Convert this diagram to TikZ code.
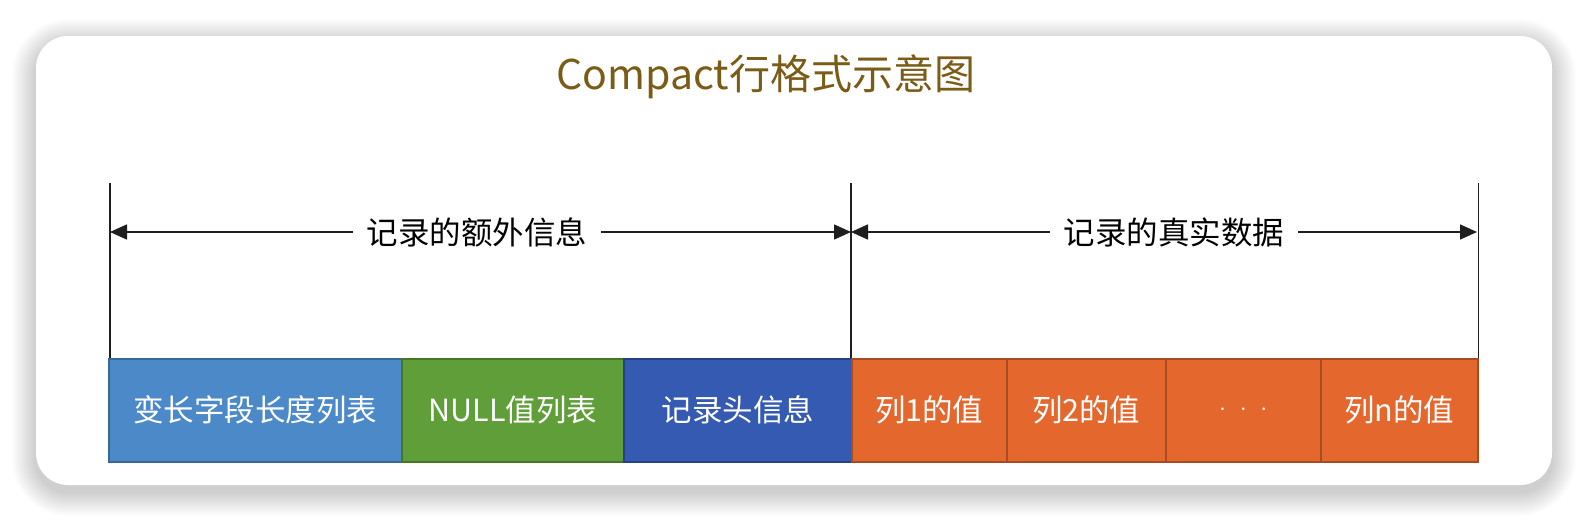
\documentclass[tikz,border=0pt]{standalone}
\usepackage{fontspec}
\setmainfont{Noto Sans CJK SC}
\usetikzlibrary{arrows.meta}
\definecolor{cblue}{RGB}{76,137,200}
\definecolor{cblueD}{RGB}{58,104,150}
\definecolor{cgreen}{RGB}{96,158,58}
\definecolor{cgreenD}{RGB}{70,118,40}
\definecolor{cdblue}{RGB}{53,90,178}
\definecolor{cdblueD}{RGB}{38,66,135}
\definecolor{corange}{RGB}{228,103,46}
\definecolor{corangeD}{RGB}{166,76,30}
\definecolor{ctitle}{RGB}{122,92,22}
\definecolor{cline}{RGB}{30,30,30}
\begin{document}
\begin{tikzpicture}[x=1pt,y=-1pt,
  cell/.style={draw, line width=1.5pt, minimum height=103pt, inner sep=0pt,
    text=white, font=\fontsize{30.5}{34}\selectfont, anchor=north west},
  bluecell/.style={cell, fill=cblue, draw=cblueD},
  greencell/.style={cell, fill=cgreen, draw=cgreenD},
  dbluecell/.style={cell, fill=cdblue, draw=cdblueD},
  orangecell/.style={cell, fill=corange, draw=corangeD},
  span/.style={line width=1.6pt, draw=cline},
  tip/.style={-{Triangle[length=17pt,width=15pt]}, line width=1.6pt, draw=cline},
  spanlabel/.style={fill=white, inner xsep=14pt, inner ysep=2pt, font=\fontsize{31.5}{35}\selectfont, text=black},
]
\useasboundingbox (0,0) rectangle (1588,522);
\fill[white] (0,0) rectangle (1588,522);
% soft shadow
\foreach \i in {1,...,24}{
  \fill[black, opacity=0.009, rounded corners=32pt+\i pt]
    (36-\i,36-\i+7) rectangle (1552+\i,485+\i+7);
}
% card
\fill[white, rounded corners=32pt] (36,36) rectangle (1552,485);
% title
\node[text=ctitle, font=\fontsize{41}{46}\selectfont] (title) at (766,77) {Compact行格式示意图};
% cells
\node[bluecell, minimum width=293pt] (b1) at (108,358) {变长字段长度列表};
\node[greencell, minimum width=222pt] (b2) at (401,358) {NULL值列表};
\node[dbluecell, minimum width=228pt] (b3) at (623,358) {记录头信息};
\node[orangecell, minimum width=155pt] (c1) at (851,358) {列1的值};
\node[orangecell, minimum width=159pt] (c2) at (1006,358) {列2的值};
\node[orangecell, minimum width=155pt] (c3) at (1165,358) {$\cdot\,\,\cdot\,\,\cdot$};
\node[orangecell, minimum width=157pt] (c4) at (1320,358) {列n的值};
% vertical guide lines
\coordinate (t1) at (110,183);
\coordinate (t2) at (851,183);
\coordinate (t3) at (1477,183);
\draw[span] (b1.north west) ++(2,0) coordinate (v1) -- (t1);
\draw[span] (c1.north west) -- (t2);
\draw[span] (c4.north east) -- (c4.north east |- t3);
% span arrows
\coordinate (a1) at (110,232);
\coordinate (a2) at (851,232);
\coordinate (a3) at (1477,232);
\node[spanlabel] (l1) at (477,232) {记录的额外信息};
\node[spanlabel] (l2) at (1174,232) {记录的真实数据};
\draw[tip] (l1.west) -- (a1);
\draw[tip] (l1.east) -- (a2);
\draw[tip] (l2.west) -- (a2);
\draw[tip] (l2.east) -- (a3);
\end{tikzpicture}
\end{document}
